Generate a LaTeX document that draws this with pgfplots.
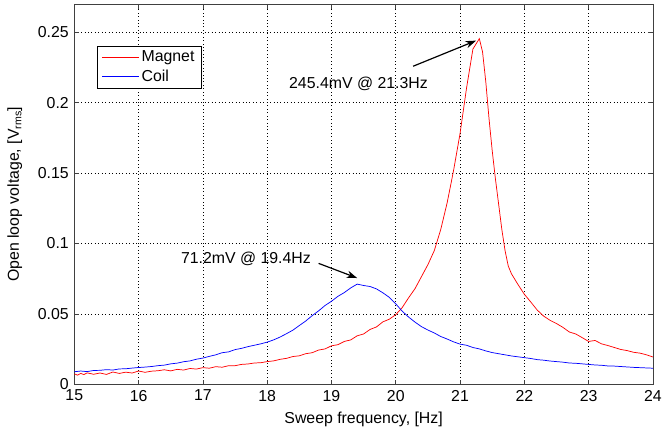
\documentclass[border=0pt]{standalone}
\usepackage{fontspec}
\setmainfont{Liberation Sans}
\usepackage{pgfplots}
\pgfplotsset{compat=1.18}
\usetikzlibrary{calc,arrows.meta}
\begin{document}
\fontsize{12}{14}\selectfont
\begin{tikzpicture}
\begin{axis}[
 scale only axis, width=438pt, height=288pt,
 xmin=15, xmax=24, ymin=0, ymax=0.27,
 xtick={15,16,...,24}, ytick={0,0.05,0.1,0.15,0.2,0.25},
 yticklabel style={/pgf/number format/fixed, /pgf/number format/precision=2},
 /pgf/number format/assume math mode=true,
 tick align=inside, major tick length=3.5pt,
 tick style={black!75, line width=0.5pt},
 grid=major, grid style={black, dash pattern=on 0.6pt off 2pt, line width=0.5pt},
 axis line style={black!75, line width=0.6pt},
 tick label style={font=\fontsize{12}{14}\selectfont},
 label style={font=\fontsize{12}{14}\selectfont},
 xlabel={Sweep frequency, [Hz]},
 ylabel={Open loop voltage, [V\textsubscript{rms}]},
 xlabel style={at={(axis description cs:0.5,-0.0911)}, anchor=center},
 ylabel style={at={(axis description cs:-0.1027,0.5)}, anchor=center},
 legend style={at={(0.04,0.8906)}, anchor=north west, draw=black, line width=0.6pt,
   font=\fontsize{12}{14}\selectfont, cells={anchor=west}, inner xsep=3pt, inner ysep=1.5pt, row sep=0.5pt},
 legend image code/.code={\draw[#1, line width=0.6pt] (0pt,0pt) -- (27.5pt,0pt);},
 every axis plot/.append style={line width=0.55pt},
]
\addplot[red] coordinates {
(15.0,0.0075) (15.05,0.0066) (15.1,0.0078) (15.15,0.0070) (15.2,0.0082) (15.3,0.0072) (15.4,0.0081) (15.5,0.0071) (15.6,0.0088) (15.7,0.0078) (15.8,0.0087) (15.9,0.0081)
(16.0,0.0095) (16.1,0.0086) (16.2,0.0094) (16.3,0.0097) (16.4,0.0104) (16.5,0.0096) (16.6,0.0107) (16.7,0.0102) (16.8,0.0113) (16.9,0.0109)
(17.0,0.0119) (17.1,0.0115) (17.2,0.0126) (17.3,0.0122) (17.4,0.0133) (17.5,0.0133) (17.6,0.0142) (17.7,0.0145) (17.8,0.0152) (17.9,0.0154)
(18.0,0.0162) (18.1,0.0167) (18.2,0.0178) (18.3,0.0185) (18.4,0.0198) (18.5,0.0203) (18.6,0.0218) (18.7,0.0225) (18.8,0.0244) (18.9,0.0252)
(19.0,0.0274) (19.1,0.0282) (19.2,0.0305) (19.3,0.0316) (19.4,0.0345) (19.5,0.0358) (19.6,0.0390) (19.7,0.0408) (19.8,0.0444) (19.9,0.0463)
(20.0,0.0495) (20.1,0.0545) (20.2,0.0615) (20.3,0.0680) (20.4,0.0765) (20.5,0.0850) (20.6,0.0950) (20.7,0.1100) (20.8,0.1290) (20.9,0.1520)
(21.0,0.1780) (21.1,0.2100) (21.2,0.2380) (21.3,0.2454) (21.35,0.2360) (21.4,0.2150) (21.45,0.1890) (21.5,0.1660) (21.55,0.1460) (21.6,0.1280)
(21.65,0.1100) (21.7,0.0950) (21.75,0.0840) (21.8,0.0785) (21.9,0.0710) (22.0,0.0640) (22.1,0.0585) (22.2,0.0528) (22.3,0.0485) (22.4,0.0455)
(22.5,0.0432) (22.6,0.0405) (22.7,0.0372) (22.8,0.0358) (22.9,0.0332) (23.0,0.0305) (23.1,0.0312) (23.2,0.0288) (23.3,0.0276) (23.4,0.0262)
(23.5,0.0248) (23.6,0.0240) (23.7,0.0228) (23.8,0.0222) (23.9,0.0210) (24.0,0.0195)
};
\addlegendentry{Magnet}
\addplot[blue] coordinates {
(15.0,0.0090) (15.1,0.0095) (15.2,0.0091) (15.3,0.0099) (15.4,0.0100) (15.5,0.0105) (15.6,0.0102) (15.7,0.0110) (15.8,0.0111) (15.9,0.0116)
(16.0,0.0120) (16.1,0.0123) (16.2,0.0127) (16.3,0.0133) (16.4,0.0137) (16.5,0.0146) (16.6,0.0151) (16.7,0.0161) (16.8,0.0167) (16.9,0.0179)
(17.0,0.0187) (17.1,0.0199) (17.2,0.0210) (17.3,0.0225) (17.4,0.0231) (17.5,0.0247) (17.6,0.0256) (17.7,0.0268) (17.8,0.0278) (17.9,0.0288)
(18.0,0.0300) (18.1,0.0316) (18.2,0.0336) (18.3,0.0360) (18.4,0.0385) (18.5,0.0418) (18.6,0.0450) (18.7,0.0488) (18.8,0.0522) (18.9,0.0560)
(19.0,0.0590) (19.1,0.0625) (19.2,0.0652) (19.3,0.0685) (19.4,0.0712) (19.5,0.0702) (19.6,0.0695) (19.7,0.0678) (19.8,0.0650) (19.9,0.0618)
(20.0,0.0572) (20.1,0.0520) (20.2,0.0478) (20.3,0.0442) (20.4,0.0410) (20.5,0.0386) (20.6,0.0365) (20.7,0.0340) (20.8,0.0322) (20.9,0.0302)
(21.0,0.0286) (21.1,0.0278) (21.2,0.0262) (21.3,0.0252) (21.4,0.0238) (21.5,0.0226) (21.6,0.0218) (21.7,0.0210) (21.8,0.0202) (21.9,0.0196)
(22.0,0.0190) (22.1,0.0184) (22.2,0.0176) (22.3,0.0172) (22.4,0.0166) (22.5,0.0162) (22.6,0.0158) (22.7,0.0152) (22.8,0.0150) (22.9,0.0146)
(23.0,0.0142) (23.1,0.0138) (23.2,0.0136) (23.3,0.0131) (23.4,0.0130) (23.5,0.0127) (23.6,0.0124) (23.7,0.0121) (23.8,0.0119) (23.9,0.0117) (24.0,0.0115)
};
\addlegendentry{Coil}
\draw[-{Stealth[length=8pt,width=5.5pt]}, line width=0.9pt] (axis cs:20.27,0.2258) -- (axis cs:21.25,0.2440);
\node at (axis cs:19.42,0.2134) {245.4mV @ 21.3Hz};
\draw[-{Stealth[length=8pt,width=5.5pt]}, line width=0.9pt] (axis cs:18.80,0.0859) -- (axis cs:19.40,0.0755);
\node at (axis cs:17.67,0.0889) {71.2mV @ 19.4Hz};
\end{axis}
\path ($(current axis.south west)+(-56.25pt,-36.75pt)$) rectangle ($(current axis.north east)+(6pt,3pt)$);
\end{tikzpicture}
\end{document}
